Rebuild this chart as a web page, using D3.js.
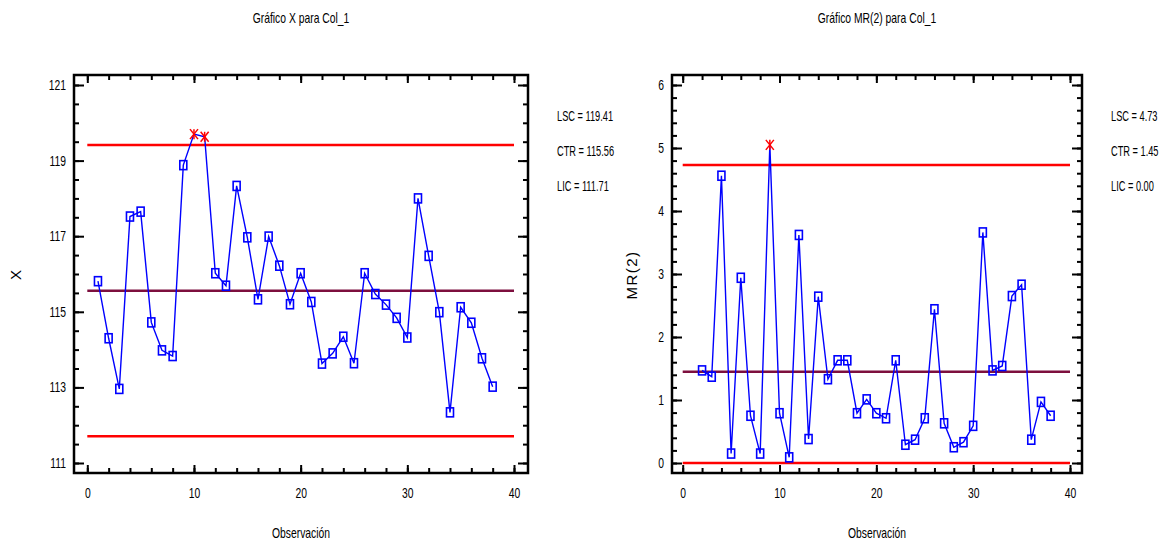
<!DOCTYPE html>
<html>
<head>
<meta charset="utf-8">
<script src="https://cdn.jsdelivr.net/npm/d3@7"></script>
<style>
  body { margin: 0; background: #fff; }
  text { font-family: "Liberation Sans", Arial, sans-serif; fill: #000; }
</style>
</head>
<body>
<svg id="chart" width="1162" height="542"></svg>
<script>
// Individual values (X chart)
const xValues = [115.81, 114.30, 112.96, 117.52, 117.65, 114.72, 113.98, 113.83, 118.88, 119.70,
  119.63, 116.02, 115.69, 118.33, 116.97, 115.33, 116.99, 116.22, 115.20, 116.02,
  115.26, 113.63, 113.90, 114.34, 113.64, 116.02, 115.47, 115.19, 114.84, 114.32,
  118.00, 116.48, 114.99, 112.34, 115.12, 114.71, 113.77, 113.02];

// Moving ranges, observations 2..38
const mrValues = [1.47, 1.37, 4.56, 0.15, 2.94, 0.75, 0.15, 5.05, 0.79, 0.09,
  3.62, 0.38, 2.64, 1.33, 1.63, 1.63, 0.79, 1.01, 0.79, 0.71,
  1.63, 0.29, 0.37, 0.71, 2.44, 0.63, 0.25, 0.33, 0.59, 3.66,
  1.47, 1.54, 2.65, 2.83, 0.37, 0.97, 0.75];

const xLimits = { lsc: 119.41, ctr: 115.56, lic: 111.71 };
const mrLimits = { lsc: 4.73, ctr: 1.45, lic: 0.00 };

const xTickValues = [111, 113, 115, 117, 119, 121];
const mrTickValues = [0, 1, 2, 3, 4, 5, 6];
const obsTickValues = [0, 10, 20, 30, 40];

const svg = d3.select("#chart");

// narrow text: no condensed font installed, so squeeze horizontally
function narrowText(g, x, y, str, size, s, anchor) {
  return g.append("text")
    .attr("transform", `translate(${x},${y}) scale(${s},1)`)
    .attr("text-anchor", anchor || "start")
    .attr("font-size", size)
    .text(str);
}

function drawChart(cfg) {
  const g = svg.append("g");
  const x = d3.scaleLinear().domain([0, 40]).range(cfg.xRange);
  const y = d3.scaleLinear().domain(cfg.yDomain).range([463, 85]);
  const [fl, fr, ft, fb] = cfg.frame;
  const sq = 0.74;

  narrowText(g, (fl + fr) / 2, 23, cfg.title, 14, sq, "middle");

  // control lines
  const lines = [
    { v: cfg.limits.lsc, c: "#ff0000" },
    { v: cfg.limits.lic, c: "#ff0000" },
    { v: cfg.limits.ctr, c: "#7d0f3e" }
  ];
  g.selectAll("line.ctl").data(lines).join("line")
    .attr("x1", x(0)).attr("x2", x(40))
    .attr("y1", d => y(d.v)).attr("y2", d => y(d.v))
    .attr("stroke", d => d.c).attr("stroke-width", 2.5);

  // data line
  const line = d3.line().x(d => x(d.obs)).y(d => y(d.v));
  g.append("path").datum(cfg.data)
    .attr("d", line).attr("fill", "none")
    .attr("stroke", "#0000ff").attr("stroke-width", 1.4);

  const inside = cfg.data.filter(d => d.v <= cfg.limits.lsc && d.v >= cfg.limits.lic);
  const outside = cfg.data.filter(d => d.v > cfg.limits.lsc || d.v < cfg.limits.lic);

  g.selectAll("rect.pt").data(inside).join("rect")
    .attr("x", d => x(d.obs) - 3.5).attr("y", d => y(d.v) - 4.5)
    .attr("width", 7).attr("height", 9)
    .attr("fill", "none").attr("stroke", "#0000ff").attr("stroke-width", 1.6);

  const star = g.selectAll("g.out").data(outside).join("g")
    .attr("transform", d => `translate(${x(d.obs)},${y(d.v)})`)
    .attr("stroke", "#ff0000").attr("stroke-width", 1.5);
  star.append("line").attr("x1", -4).attr("y1", -5).attr("x2", 4).attr("y2", 5);
  star.append("line").attr("x1", 4).attr("y1", -5).attr("x2", -4).attr("y2", 5);
  star.append("line").attr("x1", 0).attr("y1", -5).attr("x2", 0).attr("y2", 5);

  // axes
  const xMinor = d3.range(0, 41, 2);
  const fmt = d3.format("d");
  const axes = [
    { ax: d3.axisBottom(x).tickValues(obsTickValues).tickSize(-8).tickPadding(15).tickFormat(fmt), t: `translate(0,${fb})` },
    { ax: d3.axisBottom(x).tickValues(xMinor).tickSize(-5).tickFormat(""), t: `translate(0,${fb})` },
    { ax: d3.axisTop(x).tickValues(obsTickValues).tickSize(-8).tickFormat(""), t: `translate(0,${ft})` },
    { ax: d3.axisTop(x).tickValues(xMinor).tickSize(-5).tickFormat(""), t: `translate(0,${ft})` },
    { ax: d3.axisLeft(y).tickValues(cfg.yTicks).tickSize(-10).tickPadding(8).tickFormat(fmt), t: `translate(${fl},0)` },
    { ax: d3.axisLeft(y).tickValues(cfg.yMinor).tickSize(-5).tickFormat(""), t: `translate(${fl},0)` },
    { ax: d3.axisRight(y).tickValues(cfg.yTicks).tickSize(-10).tickFormat(""), t: `translate(${fr},0)` },
    { ax: d3.axisRight(y).tickValues(cfg.yMinor).tickSize(-5).tickFormat(""), t: `translate(${fr},0)` }
  ];
  axes.forEach(a => {
    const s = g.append("g").attr("transform", a.t).call(a.ax);
    s.select(".domain").remove();
    s.selectAll(".tick line").attr("stroke", "#000").attr("stroke-width", 2);
    s.selectAll(".tick text")
      .attr("font-size", 14).attr("font-family", null).attr("fill", "#000")
      .attr("x", function () { return (+d3.select(this).attr("x") || 0) / sq; })
      .attr("transform", `scale(${sq},1)`);
  });

  // frame
  g.append("rect")
    .attr("x", fl).attr("y", ft).attr("width", fr - fl).attr("height", fb - ft)
    .attr("fill", "none").attr("stroke", "#000").attr("stroke-width", 2.5);

  // axis titles
  narrowText(g, (fl + fr) / 2, 538, "Observación", 14, sq, "middle");
  g.append("text")
    .attr("transform", `translate(${cfg.yLabelX},275) rotate(-90)`)
    .attr("text-anchor", "middle")
    .attr("font-size", 15)
    .attr("letter-spacing", cfg.yLabelSpacing)
    .text(cfg.yLabel);

  // limit legend
  const legend = [`LSC = ${cfg.limitText[0]}`, `CTR = ${cfg.limitText[1]}`, `LIC = ${cfg.limitText[2]}`];
  legend.forEach((d, i) => narrowText(g, cfg.legendX, 121 + i * 35, d, 14, 0.66));
}

drawChart({
  title: "Gráfico X para Col_1",
  data: xValues.map((v, i) => ({ obs: i + 1, v })),
  limits: xLimits,
  limitText: ["119.41", "115.56", "111.71"],
  xRange: [87.3, 514],
  yDomain: [111, 121],
  yTicks: xTickValues,
  yMinor: d3.range(111, 121.01, 0.5),
  frame: [74, 528, 75, 473],
  yLabel: "X",
  yLabelX: 21,
  yLabelSpacing: 0,
  legendX: 557
});

drawChart({
  title: "Gráfico MR(2) para Col_1",
  data: mrValues.map((v, i) => ({ obs: i + 2, v })),
  limits: mrLimits,
  limitText: ["4.73", "1.45", "0.00"],
  xRange: [682.7, 1070],
  yDomain: [0, 6],
  yTicks: mrTickValues,
  yMinor: d3.range(0, 6.01, 0.2),
  frame: [672, 1082, 75, 473],
  yLabel: "MR(2)",
  yLabelX: 637,
  yLabelSpacing: 1.5,
  legendX: 1111
});
</script>
</body>
</html>
